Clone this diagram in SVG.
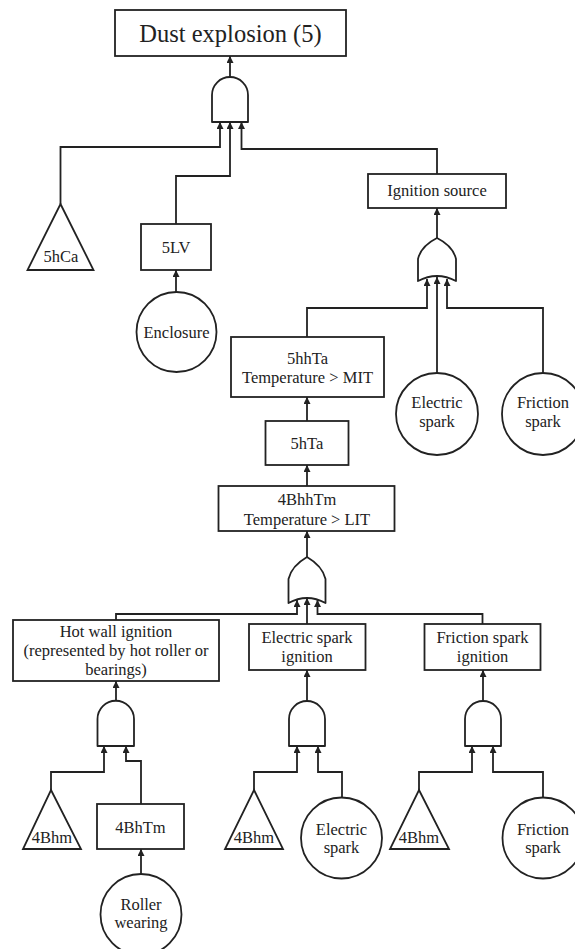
<svg xmlns="http://www.w3.org/2000/svg" width="575" height="949" viewBox="0 0 575 949">
<style>
.n{fill:#fff;stroke:#222;stroke-width:1.8}
.g{fill:#fff;stroke:#222;stroke-width:1.8;stroke-linejoin:round}
.c{fill:none;stroke:#222;stroke-width:1.8;marker-end:url(#ah)}
.l{fill:none;stroke:#222;stroke-width:1.8}
text{font-family:"Liberation Serif","Times New Roman",serif;font-size:16.5px;fill:#222;text-anchor:middle}
</style>
<defs>
<marker id="ah" viewBox="0 0 10 10" refX="10" refY="5" markerWidth="8" markerHeight="7" markerUnits="userSpaceOnUse" orient="auto">
<path d="M0,0 L10,5 L0,10 z" fill="#222"/>
</marker>
</defs>
<rect width="575" height="949" fill="#fff"/>
<g id="connectors">
<path class="c" d="M230,77 V56"/>
<path class="c" d="M60.5,204 V147 H220 V122"/>
<path class="c" d="M176,224 V176 H230 V122"/>
<path class="c" d="M437,174 V149 H241.5 V122"/>
<path class="c" d="M176,292 V270"/>
<path class="c" d="M437,238 V208"/>
<path class="c" d="M307,337 V308 H427 V279"/>
<path class="c" d="M437,373 V277"/>
<path class="c" d="M543,373 V308 H447 V279"/>
<path class="c" d="M307,421 V397"/>
<path class="c" d="M307,486 V465"/>
<path class="c" d="M307,557 V531"/>
<path class="c" d="M116,620 V614 H297 V600"/>
<path class="c" d="M307,624 V598"/>
<path class="c" d="M482.5,624 V614 H317.5 V600"/>
<path class="c" d="M116,701 V681"/>
<path class="c" d="M307,701 V670"/>
<path class="c" d="M483,701 V670"/>
<path class="c" d="M51,790 V772 H104 V746"/>
<path class="c" d="M141,804 V761 H126 V746"/>
<path class="c" d="M141,874 V849"/>
<path class="c" d="M254,790 V772 H297 V746"/>
<path class="c" d="M342,798 V772 H318 V746"/>
<path class="c" d="M419,790 V772 H472 V746"/>
<path class="c" d="M543,798 V772 H493 V746"/>
</g>
<g id="top">
<rect class="n" x="115" y="10" width="231" height="46"/>
<text x="230.5" y="42" style="font-size:24.5px">Dust explosion (5)</text>
</g>
<g id="and-top"><path class="g" d="M212,122 V95 A18,18 0 0 1 248,95 V122 Z"/></g>
<g id="n5hCa">
<path class="n" d="M60.5,204 L93.5,270 L27.5,270 Z"/>
<text x="61" y="262">5hCa</text>
</g>
<g id="n5LV">
<rect class="n" x="141" y="224" width="70" height="46"/>
<text x="176" y="253">5LV</text>
</g>
<g id="enclosure">
<circle class="n" cx="176.5" cy="332" r="40"/>
<text x="176.5" y="337.5">Enclosure</text>
</g>
<g id="ignition-source">
<rect class="n" x="368" y="174" width="138" height="34"/>
<text x="437" y="196">Ignition source</text>
</g>
<g id="or-ignition"><path class="g" d="M418,281 V259 Q421,246 437,238 Q453,246 456,259 V281 Q437,271 418,281 Z"/></g>
<g id="n5hhTa">
<rect class="n" x="231" y="337" width="153" height="60"/>
<text x="307.5" y="363.5">5hhTa</text>
<text x="307.5" y="383">Temperature &gt; MIT</text>
</g>
<g id="electric-spark-1">
<circle class="n" cx="437" cy="414" r="41"/>
<text x="437" y="408">Electric</text>
<text x="437" y="427">spark</text>
</g>
<g id="friction-spark-1">
<circle class="n" cx="543" cy="414" r="41"/>
<text x="543" y="408">Friction</text>
<text x="543" y="427">spark</text>
</g>
<g id="n5hTa">
<rect class="n" x="265.5" y="421" width="83" height="44"/>
<text x="307" y="448.5">5hTa</text>
</g>
<g id="n4BhhTm">
<rect class="n" x="218.5" y="486" width="176" height="45"/>
<text x="307" y="505">4BhhTm</text>
<text x="307" y="524.5">Temperature &gt; LIT</text>
</g>
<g id="or-lit"><path class="g" d="M288.5,603 V579 Q291.5,566 307,557 Q322.5,566 325.5,579 V603 Q307,593 288.5,603 Z"/></g>
<g id="hot-wall">
<rect class="n" x="13" y="620" width="206" height="61"/>
<text x="116" y="636.5">Hot wall ignition</text>
<text x="116" y="656">(represented by hot roller or</text>
<text x="116" y="675">bearings)</text>
</g>
<g id="electric-ignition">
<rect class="n" x="249" y="624" width="116.5" height="46"/>
<text x="307" y="643">Electric spark</text>
<text x="307" y="662">ignition</text>
</g>
<g id="friction-ignition">
<rect class="n" x="424.5" y="624" width="116" height="46"/>
<text x="482.5" y="643">Friction spark</text>
<text x="482.5" y="662">ignition</text>
</g>
<g id="and-hot"><path class="g" d="M97.5,746 V719 A18.25,18.25 0 0 1 134,719 V746 Z"/></g>
<g id="and-electric"><path class="g" d="M289,746 V719 A18,18 0 0 1 325,719 V746 Z"/></g>
<g id="and-friction"><path class="g" d="M465,746 V719 A18,18 0 0 1 501,719 V746 Z"/></g>
<g id="n4Bhm-1">
<path class="n" d="M51,790 L81,849 L23,849 Z"/>
<text x="52" y="843">4Bhm</text>
</g>
<g id="n4BhTm">
<rect class="n" x="97" y="804" width="87" height="45"/>
<text x="140.5" y="832.5">4BhTm</text>
</g>
<g id="roller-wearing">
<circle class="n" cx="141" cy="914.5" r="40.5"/>
<text x="141" y="910">Roller</text>
<text x="141" y="928">wearing</text>
</g>
<g id="n4Bhm-2">
<path class="n" d="M254,790 L283,849 L225,849 Z"/>
<text x="254" y="843">4Bhm</text>
</g>
<g id="electric-spark-2">
<circle class="n" cx="341.5" cy="838" r="40.5"/>
<text x="341.5" y="835">Electric</text>
<text x="341.5" y="853">spark</text>
</g>
<g id="n4Bhm-3">
<path class="n" d="M419,790 L449,849 L390,849 Z"/>
<text x="419" y="843">4Bhm</text>
</g>
<g id="friction-spark-2">
<circle class="n" cx="543" cy="838" r="40.5"/>
<text x="543" y="835">Friction</text>
<text x="543" y="853">spark</text>
</g>
</svg>
